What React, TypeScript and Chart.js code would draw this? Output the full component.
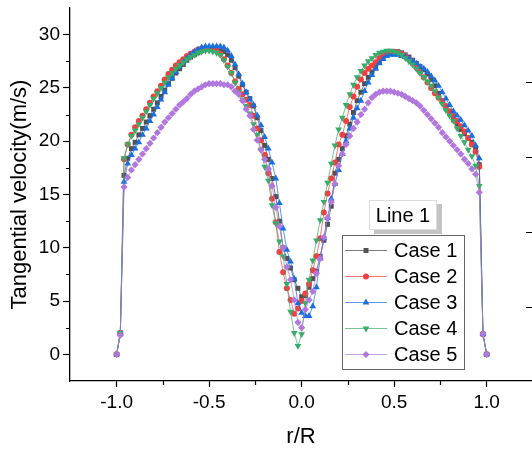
import React, { useEffect, useRef } from "react";
import { Chart, registerables } from "chart.js";

Chart.register(...registerables);

// r/R positions (shared by all cases)
const rR = [
  -1.0, -0.98, -0.96, -0.94, -0.92, -0.9, -0.88, -0.86, -0.84, -0.82,
  -0.8, -0.78, -0.76, -0.74, -0.72, -0.7, -0.68, -0.66, -0.64, -0.62,
  -0.6, -0.58, -0.56, -0.54, -0.52, -0.5, -0.48, -0.46, -0.44, -0.42,
  -0.4, -0.38, -0.36, -0.34, -0.32, -0.3, -0.28, -0.26, -0.24, -0.22,
  -0.2, -0.18, -0.16, -0.14, -0.12, -0.1, -0.08, -0.06, -0.04, -0.02,
  0.0,
  0.02, 0.04, 0.06, 0.08, 0.1, 0.12, 0.14, 0.16, 0.18, 0.2,
  0.22, 0.24, 0.26, 0.28, 0.3, 0.32, 0.34, 0.36, 0.38, 0.4,
  0.42, 0.44, 0.46, 0.48, 0.5, 0.52, 0.54, 0.56, 0.58, 0.6,
  0.62, 0.64, 0.66, 0.68, 0.7, 0.72, 0.74, 0.76, 0.78, 0.8,
  0.82, 0.84, 0.86, 0.88, 0.9, 0.92, 0.94, 0.96, 0.98, 1.0,
];

const case1 = [
  0, 2.0, 16.8, 18.4, 19.3, 19.9, 20.6, 21.2, 21.8, 22.4,
  23.0, 23.6, 24.2, 24.8, 25.4, 25.9, 26.4, 26.8, 27.2, 27.6,
  27.9, 28.1, 28.3, 28.5, 28.6, 28.6, 28.6, 28.6, 28.5, 28.4,
  28.1, 27.6, 26.9, 26.1, 25.3, 24.6, 24.0, 23.3, 22.2, 21.0,
  19.6, 18.3, 16.5, 14.8, 12.5, 10.0, 9.0, 8.1, 7.0, 6.2,
  5.4,
  5.5, 6.3, 7.1, 7.8, 9.2, 10.7, 12.2, 13.9, 17.0, 18.3,
  19.3, 20.5, 21.6, 22.7, 23.8, 24.6, 25.4, 26.0, 26.5, 27.0,
  27.4, 27.8, 28.1, 28.3, 28.4, 28.4, 28.3, 28.1, 27.9, 27.6,
  27.3, 27.0, 26.7, 26.3, 25.8, 25.2, 24.5, 23.8, 23.1, 22.6,
  22.0, 21.6, 21.1, 20.7, 20.3, 19.9, 19.4, 17.8, 1.9, 0,
];

const case2 = [
  0, 2.0, 18.3, 19.7, 20.6, 21.3, 21.9, 22.4, 23.0, 23.6,
  24.2, 24.7, 25.2, 25.8, 26.3, 26.7, 27.1, 27.4, 27.7, 28.0,
  28.2, 28.4, 28.6, 28.7, 28.7, 28.7, 28.6, 28.5, 28.2, 27.7,
  27.1, 26.4, 25.6, 24.9, 24.4, 23.9, 23.4, 22.4, 21.2, 20.1,
  18.7, 17.0, 14.6, 12.4, 9.6, 7.7, 6.2, 5.1, 3.8, 4.3,
  5.0,
  5.7, 6.6, 7.9, 9.2, 10.9, 13.3, 15.1, 16.5, 18.0, 19.7,
  20.6, 21.9, 23.2, 24.2, 25.1, 25.8, 26.4, 26.8, 27.1, 27.4,
  27.8, 28.1, 28.3, 28.4, 28.4, 28.3, 28.2, 28.0, 27.7, 27.3,
  26.9, 26.5, 26.0, 25.5, 25.0, 24.5, 24.1, 23.7, 23.3, 22.8,
  22.4, 21.9, 21.4, 20.9, 20.3, 19.7, 19.0, 17.6, 1.9, 0,
];

const case3 = [
  0, 2.0, 16.2, 17.9, 18.7, 19.3, 19.9, 20.6, 21.2, 21.9,
  22.5, 23.2, 23.9, 24.6, 25.3, 25.9, 26.5, 27.0, 27.4, 27.8,
  28.1, 28.4, 28.6, 28.8, 28.9, 28.9, 28.9, 28.9, 28.9, 28.8,
  28.5, 28.0, 27.2, 26.3, 25.4, 24.6, 23.9, 23.4, 22.4, 21.5,
  20.4, 19.3, 18.0, 16.5, 14.2, 11.8, 9.8, 8.7, 7.1, 4.8,
  3.9,
  3.6, 3.6, 4.5, 6.3, 9.0, 10.9, 12.8, 14.6, 16.0, 17.3,
  18.8, 20.0, 21.2, 22.2, 23.1, 23.8, 24.7, 25.5, 26.2, 26.8,
  27.3, 27.7, 28.0, 28.1, 28.1, 28.1, 28.0, 27.9, 27.7, 27.5,
  27.3, 27.0, 26.8, 26.5, 26.1, 25.7, 25.2, 24.6, 24.0, 23.4,
  22.8, 22.4, 22.0, 21.5, 21.0, 20.5, 19.6, 18.4, 1.9, 0,
];

const case4 = [
  0, 2.0, 18.4, 19.7, 20.5, 21.0, 21.6, 22.2, 22.8, 23.4,
  24.0, 24.5, 25.0, 25.5, 26.0, 26.4, 26.8, 27.1, 27.4, 27.7,
  27.9, 28.1, 28.3, 28.4, 28.5, 28.5, 28.4, 28.3, 28.1, 27.6,
  27.0, 26.4, 25.5, 24.6, 23.9, 23.3, 22.6, 21.6, 20.6, 19.2,
  17.6, 16.3, 14.0, 12.3, 10.6, 9.2, 6.6, 4.0, 2.0, 0.8,
  1.9,
  4.8, 7.0, 8.8, 10.7, 12.6, 14.3, 16.1, 17.9, 19.6, 21.1,
  22.2, 23.4, 24.4, 25.3, 26.0, 26.6, 27.1, 27.5, 27.8, 28.1,
  28.3, 28.4, 28.5, 28.5, 28.4, 28.3, 28.1, 27.8, 27.5, 27.2,
  26.8, 26.4, 26.0, 25.6, 25.2, 24.7, 24.1, 23.5, 22.9, 22.4,
  21.9, 21.2, 20.5, 19.9, 19.2, 18.6, 17.7, 15.8, 1.9, 0,
];

const case5 = [
  0, 1.8, 15.7, 16.6, 17.3, 17.8, 18.3, 18.8, 19.3, 19.8,
  20.3, 20.8, 21.3, 21.8, 22.2, 22.6, 23.0, 23.4, 23.7, 24.0,
  24.4, 24.7, 24.9, 25.1, 25.3, 25.4, 25.4, 25.4, 25.4, 25.3,
  25.3, 25.1, 24.7, 24.4, 23.8, 23.0, 22.4, 21.1, 20.1, 19.2,
  18.3, 17.4, 15.8, 13.8, 12.0, 10.0, 8.2, 7.0, 5.1, 3.0,
  2.5,
  4.2, 5.1, 5.9, 7.6, 9.0, 11.0, 12.8, 14.3, 16.0, 17.7,
  18.8, 19.7, 20.5, 21.2, 21.8, 22.5, 23.0, 23.6, 24.1, 24.4,
  24.6, 24.7, 24.7, 24.7, 24.6, 24.5, 24.4, 24.2, 24.0, 23.8,
  23.6, 23.3, 22.9, 22.5, 22.1, 21.7, 21.3, 20.8, 20.4, 20.0,
  19.6, 19.2, 18.8, 18.3, 17.9, 17.4, 16.9, 15.2, 1.9, 0,
];

const seriesValues = [case1, case2, case3, case4, case5];
const seriesNames = ["Case 1", "Case 2", "Case 3", "Case 4", "Case 5"];
const legendTitle = "Line 1";
const xTitle = "r/R";
const yTitle = "Tangential velocity(m/s)";

const xTickValues = [-1, -0.5, 0, 0.5, 1];
const xMinorTicks = [-0.75, -0.25, 0.25, 0.75];
const yTickValues = [0, 5, 10, 15, 20, 25, 30];
const yMinorTicks = [2.5, 7.5, 12.5, 17.5, 22.5, 27.5];
const rightTickValues = [10, 20, 30, 40];

const markerColors = ["#515151", "#F14040", "#1A6FDF", "#37AD6B", "#B177DE"];
const lineColors = [
  "rgba(81,81,81,0.75)",
  "rgba(241,64,64,0.7)",
  "rgba(26,111,223,0.7)",
  "rgba(55,173,107,0.7)",
  "rgba(177,119,222,0.7)",
];
const pointStyles = ["rect", "circle", "triangle", "triangle", "rectRot"];
const pointRotations = [0, 0, 0, 180, 0];
const pointRadii = [3.5, 3.0, 3.9, 3.9, 3.6];

const FONT = '"Liberation Sans", Arial, Helvetica, sans-serif';

function drawMarker(ctx: CanvasRenderingContext2D, i: number, x: number, y: number) {
  const r = pointRadii[i];
  ctx.fillStyle = markerColors[i];
  ctx.beginPath();
  const style = pointStyles[i];
  if (style === "rect") {
    const s = Math.SQRT1_2 * r;
    ctx.rect(x - s, y - s, 2 * s, 2 * s);
  } else if (style === "circle") {
    ctx.arc(x, y, r, 0, Math.PI * 2);
  } else if (style === "triangle") {
    const rot = (pointRotations[i] * Math.PI) / 180;
    for (let k = 0; k < 3; k++) {
      const a = rot + (k * 2 * Math.PI) / 3;
      const px = x + Math.sin(a) * r;
      const py = y - Math.cos(a) * r;
      if (k === 0) ctx.moveTo(px, py);
      else ctx.lineTo(px, py);
    }
    ctx.closePath();
  } else {
    ctx.moveTo(x - r, y);
    ctx.lineTo(x, y - r);
    ctx.lineTo(x + r, y);
    ctx.lineTo(x, y + r);
    ctx.closePath();
  }
  ctx.fill();
}

const decorPlugin = {
  id: "decor",
  afterDraw(chart: any) {
    const ctx: CanvasRenderingContext2D = chart.ctx;
    const area = chart.chartArea;
    const xs = chart.scales.x;
    const ys = chart.scales.y;
    const y2 = chart.scales.y2;
    ctx.save();
    // minor ticks
    ctx.strokeStyle = "#000";
    ctx.lineWidth = 1.2;
    ctx.beginPath();
    for (const v of xMinorTicks) {
      const px = Math.round(xs.getPixelForValue(v)) + 0.5;
      ctx.moveTo(px, area.bottom);
      ctx.lineTo(px, area.bottom + 4);
    }
    for (const v of yMinorTicks) {
      const py = Math.round(ys.getPixelForValue(v)) + 0.5;
      ctx.moveTo(area.left, py);
      ctx.lineTo(area.left - 4, py);
    }
    // right-hand inward ticks
    for (const v of rightTickValues) {
      const py = Math.round(y2.getPixelForValue(v)) + 0.5;
      ctx.moveTo(area.right - 6, py);
      ctx.lineTo(area.right, py);
    }
    ctx.stroke();

    // legend title box with shadow
    ctx.fillStyle = "#c4c4c4";
    ctx.fillRect(374, 204, 68, 30);
    ctx.fillStyle = "#ffffff";
    ctx.fillRect(369, 200, 68, 30);
    ctx.strokeStyle = "#dcdcdc";
    ctx.lineWidth = 1;
    ctx.strokeRect(369.5, 200.5, 67, 29);
    ctx.fillStyle = "#000";
    ctx.font = `20px ${FONT}`;
    ctx.textAlign = "center";
    ctx.textBaseline = "middle";
    ctx.fillText(legendTitle, 403, 216);

    // legend box
    ctx.fillStyle = "#ffffff";
    ctx.fillRect(342, 235, 123, 135);
    ctx.strokeStyle = "#666";
    ctx.lineWidth = 1;
    ctx.strokeRect(342.5, 235.5, 122, 134);
    const rowY = [250, 276, 302, 328, 354];
    ctx.textAlign = "left";
    for (let i = 0; i < seriesNames.length; i++) {
      const y = rowY[i];
      ctx.strokeStyle = lineColors[i];
      ctx.lineWidth = 1;
      ctx.beginPath();
      ctx.moveTo(345, y + 0.5);
      ctx.lineTo(387, y + 0.5);
      ctx.stroke();
      drawMarker(ctx, i, 366, y + 0.5);
      ctx.fillStyle = "#000";
      ctx.fillText(seriesNames[i], 394, y + 1);
    }
    ctx.restore();
  },
};

export default function App() {
  const ref = useRef<HTMLCanvasElement>(null);
  useEffect(() => {
    document.body.style.margin = "0";
    const canvas = ref.current;
    if (!canvas) return;
    Chart.defaults.font.family = FONT;
    const datasets = seriesNames.map((name, i) => ({
      label: name,
      data: rR.map((x, k) => ({ x, y: seriesValues[i][k] })),
      borderColor: lineColors[i],
      backgroundColor: markerColors[i],
      pointBackgroundColor: markerColors[i],
      pointBorderColor: markerColors[i],
      pointBorderWidth: 0,
      pointStyle: pointStyles[i] as any,
      pointRotation: pointRotations[i],
      pointRadius: pointRadii[i],
      borderWidth: 1,
      tension: 0,
      order: seriesNames.length - i,
      yAxisID: "y",
    }));
    const chart = new Chart(canvas, {
      type: "line",
      data: { datasets },
      options: {
        responsive: false,
        animation: false,
        events: [],
        layout: { padding: { top: 8, left: 0, right: 0, bottom: 0 }, autoPadding: false },
        plugins: { legend: { display: false }, tooltip: { enabled: false } },
        scales: {
          x: {
            type: "linear",
            min: -1.252,
            max: 1.245,
            afterBuildTicks: (s: any) => {
              s.ticks = xTickValues.map((v) => ({ value: v }));
            },
            afterFit: (s: any) => {
              s.height = 71;
              s.paddingLeft = 0;
              s.paddingRight = 0;
            },
            ticks: {
              color: "#000",
              font: { size: 19, family: FONT },
              padding: 4,
              maxRotation: 0,
              callback: (v: any) => Number(v).toFixed(1),
            },
            grid: {
              drawOnChartArea: false,
              drawTicks: true,
              tickLength: 6,
              color: "#000",
              tickWidth: 1.2,
            },
            border: { display: true, color: "#000", width: 1.3 },
            title: {
              display: true,
              text: xTitle,
              color: "#000",
              font: { size: 22, family: FONT },
              padding: { top: 0, bottom: 2 },
            },
          },
          y: {
            type: "linear",
            position: "left",
            min: -2.5,
            max: 32.5,
            afterBuildTicks: (s: any) => {
              s.ticks = yTickValues.map((v) => ({ value: v }));
            },
            afterFit: (s: any) => {
              s.width = 70;
              s.paddingTop = 0;
              s.paddingBottom = 0;
            },
            ticks: {
              color: "#000",
              font: { size: 19, family: FONT },
              padding: 3,
              callback: (v: any) => String(v),
            },
            grid: {
              drawOnChartArea: false,
              drawTicks: true,
              tickLength: 7,
              color: "#000",
              tickWidth: 1.2,
            },
            border: { display: true, color: "#000", width: 1.3 },
            title: {
              display: true,
              text: yTitle,
              color: "#000",
              font: { size: 22, family: FONT },
              padding: { top: 7, bottom: 0 },
            },
          },
          y2: {
            type: "linear",
            position: "right",
            display: false,
            min: 0.1,
            max: 49.8,
          },
        },
      },
      plugins: [decorPlugin],
    });
    return () => chart.destroy();
  }, []);
  return (
    <div style={{ width: 532, height: 452, position: "relative" }}>
      <canvas ref={ref} width={532} height={452} style={{ display: "block" }} />
    </div>
  );
}
